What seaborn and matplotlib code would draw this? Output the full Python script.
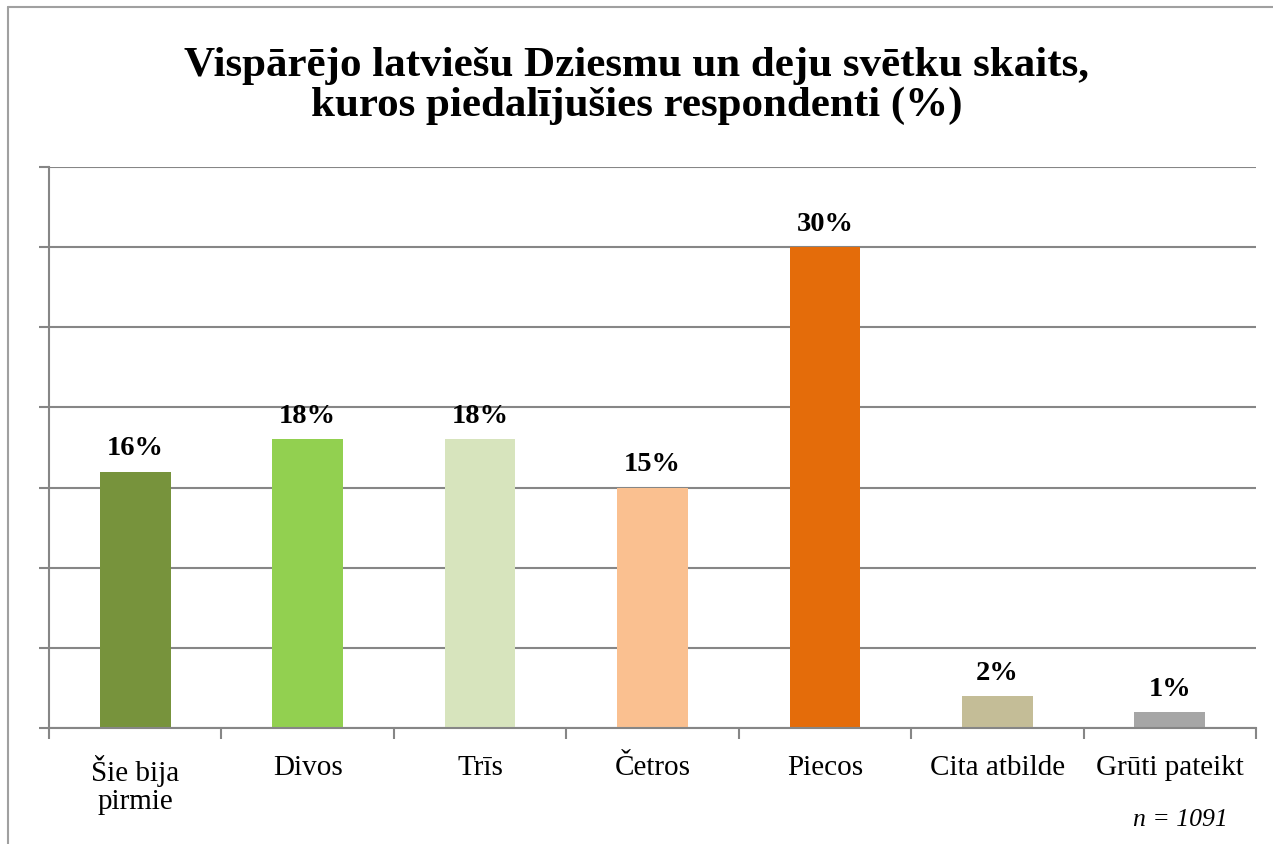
import matplotlib
matplotlib.use("Agg")
import matplotlib.pyplot as plt
import seaborn as sns
import pandas as pd
from matplotlib.lines import Line2D

categories = ["Šie bija\npirmie", "Divos", "Trīs", "Četros", "Piecos", "Cita atbilde", "Grūti pateikt"]
values = [16, 18, 18, 15, 30, 2, 1]
value_labels = ["16%", "18%", "18%", "15%", "30%", "2%", "1%"]
colors = ["#77933C", "#92D050", "#D7E4BD", "#FAC090", "#E46C0A", "#C4BD97", "#A6A6A6"]
title = "Vispārējo latviešu Dziesmu un deju svētku skaits,\nkuros piedalījušies respondenti (%)"
note = "n = 1091"

sns.set_theme(style="white")
plt.rcParams['font.family'] = ['Liberation Serif', 'DejaVu Serif']
plt.rcParams['text.color'] = 'black'
plt.rcParams['xtick.color'] = 'black'

df = pd.DataFrame({"cat": categories, "val": values})

fig = plt.figure(figsize=(12.73, 8.45), dpi=100)
ax = fig.add_axes([49/1273, 1-729/845, (1256-49)/1273, (729-168)/845])

sns.barplot(data=df, x="cat", y="val", hue="cat", palette=colors, legend=False,
            width=0.41, saturation=1, linewidth=0, ax=ax)

ax.set_ylim(0, 35)
ax.set_xlim(-0.5, len(categories) - 0.5)
ax.set_yticks(range(0, 36, 5))
ax.set_yticklabels([])
ax.yaxis.grid(True, color="#868686", linewidth=1.5)
ax.set_axisbelow(True)
ax.set_xlabel("")
ax.set_ylabel("")

for s in ["top", "right"]:
    ax.spines[s].set_visible(False)
for s in ["left", "bottom"]:
    ax.spines[s].set_color("#868686")
    ax.spines[s].set_linewidth(1.5)

# category ticks at boundaries
ax.set_xticks([i - 0.5 for i in range(len(categories) + 1)], minor=False)
ax.set_xticklabels([])
ax.set_xticks(range(len(categories)), minor=True)
ax.set_xticklabels(categories, minor=True, fontsize=21, linespacing=1.1, color="black")
ax.tick_params(axis="x", which="major", direction="out", length=8, width=1.5, color="#868686", bottom=True)
ax.tick_params(axis="x", which="minor", length=0, pad=19)
ax.tick_params(axis="y", which="major", direction="out", length=7, width=1.5, color="#868686", left=True)
for lbl in ax.get_xticklabels(minor=True):
    lbl.set_verticalalignment("top")

for i, (v, t) in enumerate(zip(values, value_labels)):
    ax.annotate(t, (i, v), xytext=(0, 8), textcoords="offset points",
                ha="center", va="bottom", fontsize=20.5, fontweight="bold", color="black")

fig.text(0.5, 1 - 86/845, title, ha="center", va="center", fontsize=31,
         fontweight="bold", linespacing=1.05, color="black")
fig.text(1228/1273, 1 - 820/845, note, ha="right", va="center", fontsize=18.5, style="italic", color="black")

# outer frame (left and top)
fig.add_artist(Line2D([8/1273, 8/1273], [0, 1 - 8/845], transform=fig.transFigure, color="#A0A0A0", linewidth=1.5))
fig.add_artist(Line2D([8/1273, 1], [1 - 8/845, 1 - 8/845], transform=fig.transFigure, color="#A0A0A0", linewidth=1.5))

fig.savefig("out.png", dpi=100)
